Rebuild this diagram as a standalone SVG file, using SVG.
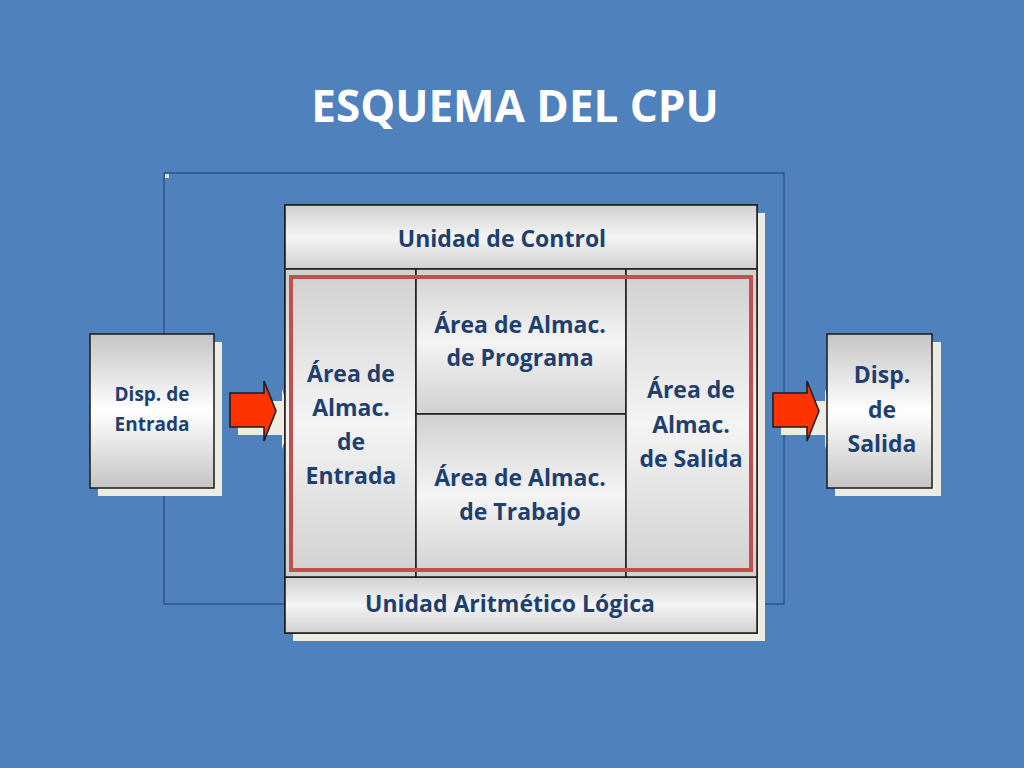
<svg xmlns="http://www.w3.org/2000/svg" width="1024" height="768" viewBox="0 0 1024 768">
<defs>
<linearGradient id="g" x1="0" y1="0" x2="0" y2="1">
<stop offset="0" stop-color="#c4c4c4"/><stop offset="0.5" stop-color="#ffffff"/><stop offset="1" stop-color="#c4c4c4"/>
</linearGradient>
<linearGradient id="gb" x1="0" y1="0" x2="0" y2="1">
<stop offset="0" stop-color="#d0d0d0"/><stop offset="0.5" stop-color="#f4f4f4"/><stop offset="1" stop-color="#d0d0d0"/>
</linearGradient>
</defs>
<style>
.t{font-family:"Open Sans","Liberation Sans",sans-serif;font-weight:bold;fill:#1f3f6e;text-anchor:middle}
.box{fill:url(#g);stroke:#1a1a1a;stroke-width:1.5}
.cell{fill:url(#gb);stroke:#1a1a1a;stroke-width:1.5}
.sh{fill:#eeebe2}
.ar{fill:#ff3300;stroke:#1a1a1a;stroke-width:1.5}
</style>
<rect width="1024" height="768" fill="#4f81bd"/>
<text x="515" y="122" class="t" style="fill:#fff;font-size:44px">ESQUEMA DEL CPU</text>
<g id="connectors">
<rect x="164" y="173" width="620" height="431" fill="none" stroke="#1f3f6e" stroke-width="1"/>
<rect x="165" y="174" width="4" height="4" fill="#ddd"/>
<path class="sh" d="M238 401 H282 V389 L292 419 L282 449 V435 H238 Z"/>
<path class="ar" d="M230 393 H264 V381 L276 411 L264 441 V427 H230 Z"/>
<path class="sh" d="M781 401 H825 V389 L835 419 L825 449 V435 H781 Z"/>
<path class="ar" d="M773 393 H807 V381 L819 411 L807 441 V427 H773 Z"/>
</g>
<g id="cpu">
<rect x="293" y="213" width="472" height="428" class="sh"/>
<rect x="285" y="205" width="472" height="428" class="cell"/>
<rect x="285" y="205" width="472" height="64" class="cell"/>
<rect x="285" y="577" width="472" height="56" class="cell"/>
<rect x="285" y="269" width="131" height="308" class="cell"/>
<rect x="416" y="269" width="210" height="145" class="cell"/>
<rect x="416" y="414" width="210" height="163" class="cell"/>
<rect x="626" y="269" width="131" height="308" class="cell"/>
<rect x="291" y="277" width="460" height="293" fill="none" stroke="#c0504d" stroke-width="4"/>
<text x="502" y="247" class="t" font-size="23">Unidad de Control</text>
<text x="510" y="612" class="t" font-size="23">Unidad Aritmético Lógica</text>
<text class="t" font-size="23"><tspan x="351" y="382">Área de</tspan><tspan x="351" y="416">Almac.</tspan><tspan x="351" y="450">de</tspan><tspan x="351" y="484">Entrada</tspan></text>
<text class="t" font-size="23"><tspan x="520" y="333">Área de Almac.</tspan><tspan x="520" y="366">de Programa</tspan></text>
<text class="t" font-size="23"><tspan x="520" y="486">Área de Almac.</tspan><tspan x="520" y="520">de Trabajo</tspan></text>
<text class="t" font-size="23"><tspan x="691" y="398">Área de</tspan><tspan x="691" y="433">Almac.</tspan><tspan x="691" y="467">de Salida</tspan></text>
</g>
<g id="entrada">
<rect x="98" y="342" width="124" height="154" class="sh"/>
<rect x="90" y="334" width="124" height="154" class="box"/>
<text class="t" font-size="19"><tspan x="152" y="401">Disp. de</tspan><tspan x="152" y="431">Entrada</tspan></text>
</g>
<g id="salida">
<rect x="835" y="342" width="106" height="154" class="sh"/>
<rect x="827" y="334" width="105" height="154" class="box"/>
<text class="t" font-size="23"><tspan x="882" y="383">Disp.</tspan><tspan x="882" y="418">de</tspan><tspan x="882" y="452">Salida</tspan></text>
</g>
</svg>
